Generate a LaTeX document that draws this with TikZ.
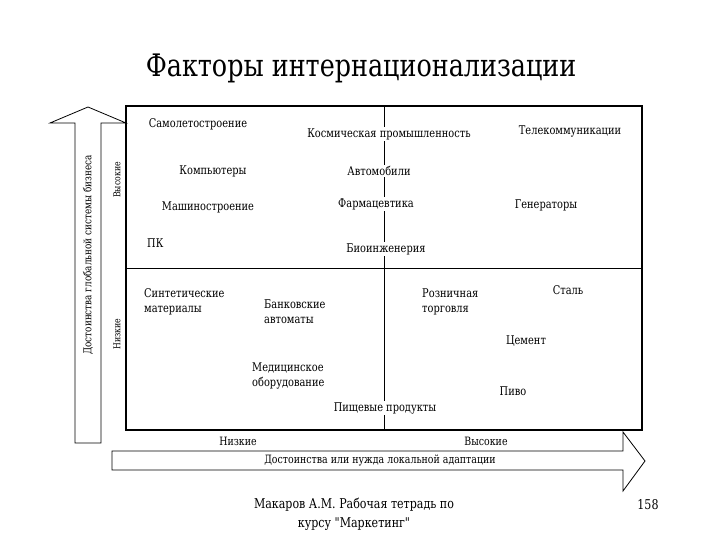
\documentclass[tikz,border=0pt]{standalone}
\usepackage{fontspec}
\setmainfont{DejaVu Serif}[FakeStretch=0.82, Ligatures=TeXOff]
\usetikzlibrary{positioning}
\tikzstyle{factor} = [fill=white, inner sep=1pt, align=left, font=\fontsize{12}{15}\selectfont]
\tikzstyle{axislabel} = [inner sep=1pt, font=\fontsize{11.5}{13}\selectfont]
\tikzstyle{sidelabel} = [inner sep=1pt, rotate=90, font=\fontsize{9.5}{12}\selectfont]
\tikzstyle{frame} = [draw=black, line width=1.5pt]
\tikzstyle{divider} = [draw=black, line width=1pt]
\tikzstyle{blockarrow} = [draw=black, line width=0.8pt, line join=miter]

\begin{document}
\begin{tikzpicture}[x=1pt, y=-1pt]
        \useasboundingbox (0,0) rectangle (720,540);
        % Title
        \node (title) at (361,68) {\fontsize{31}{36}\selectfont Факторы интернационализации};

        % Matrix frame and dividers
        \coordinate (tl) at (126,106);
        \coordinate (br) at (642,430);
        \draw [divider] (126,268) -- (642,268);
        \draw [divider] (384,106) -- (384,430);
        \draw [frame] (tl) rectangle (br);

        % Upper half
        \node (plane) [factor] at (198,124) {Самолетостроение};
        \node (space) [factor] at (389,134) {Космическая промышленность};
        \node (telecom) [factor] at (570,131) {Телекоммуникации};
        \node (comp) [factor] at (213,171) {Компьютеры};
        \node (auto) [factor] at (379,171) {Автомобили};
        \node (mech) [factor] at (208,207) {Машиностроение};
        \node (pharma) [factor] at (376,204) {Фармацевтика};
        \node (gen) [factor] at (546,205) {Генераторы};
        \node (pc) [factor, anchor=west] at (146,243) {ПК};
        \node (bio) [factor] at (386,249) {Биоинженерия};

        % Lower half
        \node (synth) [factor, anchor=west] at (143,302) {Синтетические\\материалы};
        \node (bank) [factor, anchor=west] at (263,312) {Банковские\\автоматы};
        \node (retail) [factor, anchor=west] at (421,302) {Розничная\\торговля};
        \node (steel) [factor] at (568,290) {Сталь};
        \node (cement) [factor] at (526,341) {Цемент};
        \node (med) [factor, anchor=west] at (251,376) {Медицинское\\оборудование};
        \node (beer) [factor] at (513,391) {Пиво};
        \node (food) [factor] at (385,408) {Пищевые продукты};

        % Axes
        \draw [blockarrow] (75,443) -- (75,123) -- (50,123) -- (88,107) -- (126,123) -- (101,123) -- (101,443) -- cycle;
        \node (global) [sidelabel, font=\fontsize{10.8}{13}\selectfont] at (88,255) {Достоинства глобальной системы бизнеса};
        \node (high) [sidelabel] at (117,180) {Высокие};
        \node (low) [sidelabel] at (117,334) {Низкие};

        \draw [blockarrow] (112,451) -- (623,451) -- (623,432) -- (645,461) -- (623,491) -- (623,470) -- (112,470) -- cycle;
        \node (local) [axislabel] at (380,460) {Достоинства или нужда локальной адаптации};
        \node (xlow) [axislabel] at (238,441) {Низкие};
        \node (xhigh) [axislabel] at (486,441) {Высокие};

        % Footer
        \node (source) [align=center, font=\fontsize{13.5}{19}\selectfont] at (354,514) {Макаров А.М. Рабочая тетрадь по\\курсу "Маркетинг"};
        \node (page) [font=\fontsize{13.5}{16}\selectfont] at (648,505) {158};
    \end{tikzpicture}
\end{document}
